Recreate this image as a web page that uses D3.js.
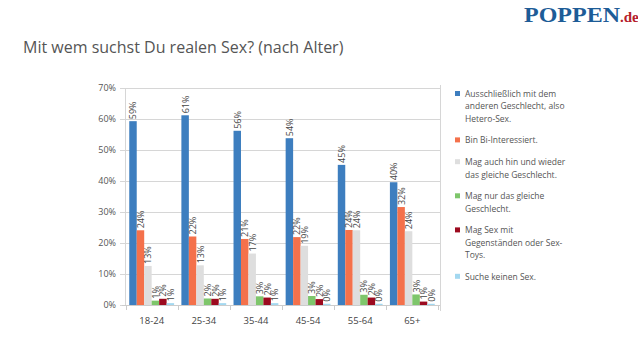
<!DOCTYPE html>
<html><head><meta charset="utf-8">
<script src="https://cdn.jsdelivr.net/npm/d3@7"></script>
<style>body{margin:0;background:#fff;}svg{display:block;font-family:"Open Sans",sans-serif;}</style>
</head><body>
<script>
const categories = ["18-24","25-34","35-44","45-54","55-64","65+"];
const seriesNames = ["Ausschließlich mit dem anderen Geschlecht, also Hetero-Sex.","Bin  Bi-Interessiert.","Mag auch hin und wieder das gleiche Geschlecht.","Mag nur das gleiche Geschlecht.","Mag Sex mit Gegenständen oder Sex-Toys.","Suche keinen Sex."];
const legendLines = [["Ausschließlich mit dem","anderen Geschlecht, also","Hetero-Sex."],["Bin  Bi-Interessiert."],["Mag auch hin und wieder","das gleiche Geschlecht."],["Mag nur das gleiche","Geschlecht."],["Mag Sex mit","Gegenständen oder Sex-","Toys."],["Suche keinen Sex."]];
const colors = ["#3d7ebf","#f4714b","#dedede","#7ec66b","#9c0a1f","#a3d8f0"];
const hetero  = [59.3, 61.2, 56.2, 53.8, 45.2, 39.6];
const bi      = [24.1, 22.1, 21.3, 21.9, 24.2, 31.6];
const sometimes=[12.6, 12.8, 16.6, 19.1, 24.1, 23.8];
const onlySame= [1.4, 2.1, 2.8, 2.9, 3.3, 3.4];
const toys    = [2.0, 2.0, 2.4, 1.9, 2.4, 1.1];
const none    = [0.6, 0.6, 0.6, 0.4, 0.4, 0.4];
const labelsText = [
  ["59%","24%","13%","1%","2%","1%"],
  ["61%","22%","13%","2%","2%","1%"],
  ["56%","21%","17%","3%","2%","1%"],
  ["54%","22%","19%","3%","2%","0%"],
  ["45%","24%","24%","3%","2%","0%"],
  ["40%","32%","24%","3%","1%","0%"]];
const yTicks = [0,10,20,30,40,50,60,70];
const series = [hetero, bi, sometimes, onlySame, toys, none];

const W=638,H=359;
const svg=d3.select("body").append("svg").attr("width",W).attr("height",H);

// title & logo
svg.append("text").attr("x",23).attr("y",53).attr("font-size",16).attr("fill","#555").text("Mit wem suchst Du realen Sex? (nach Alter)");
const logo=svg.append("text").attr("x",524).attr("y",22).attr("font-family","'Liberation Serif',serif").attr("font-weight","bold");
logo.append("tspan").attr("font-size",20).attr("fill","#1d5c97").attr("textLength",96).attr("lengthAdjust","spacingAndGlyphs").text("POPPEN");
logo.append("tspan").attr("font-size",15).attr("fill","#b5202a").text(".de");

const y=d3.scaleLinear().domain([0,70]).range([305,88]);
const x=d3.scaleBand().domain(categories).range([123,441]).paddingInner(0.14).paddingOuter(0.12);
const xs=d3.scaleBand().domain(d3.range(6)).range([0,x.bandwidth()]);

// grid
svg.append("g").selectAll("line").data(yTicks).join("line")
  .attr("x1",120).attr("x2",440).attr("y1",d=>Math.round(y(d))+0.5).attr("y2",d=>Math.round(y(d))+0.5)
  .attr("stroke","#d6d6d6");
// frame lines
svg.append("line").attr("x1",125.5).attr("x2",125.5).attr("y1",88).attr("y2",305).attr("stroke","#d6d6d6");
svg.append("line").attr("x1",440.5).attr("x2",440.5).attr("y1",85).attr("y2",311).attr("stroke","#d6d6d6");

// y axis labels
const yAxis=d3.axisLeft(y).tickValues(yTicks).tickFormat(d=>d+"%").tickSize(0).tickPadding(0);
const ya=svg.append("g").attr("transform","translate(116,0)").call(yAxis);
ya.select(".domain").remove();
ya.selectAll("text").attr("font-size",9).attr("fill","#555").attr("font-family","'Open Sans',sans-serif");

// bars
const groups=svg.append("g").selectAll("g").data(categories).join("g").attr("transform",d=>`translate(${x(d)},0)`);
groups.each(function(cat,ci){
  const g=d3.select(this);
  series.forEach((s,si)=>{
    g.append("rect").attr("x",xs(si)).attr("width",xs.bandwidth()).attr("y",y(s[ci])).attr("height",y(0)-y(s[ci])).attr("fill",colors[si]);
    g.append("text").attr("transform",`translate(${xs(si)+xs.bandwidth()/2+3.5},${y(s[ci])-2}) rotate(-90)`)
      .attr("font-size",9).attr("fill","#444").text(labelsText[ci][si]);
  });
});

// x axis
const xAxis=d3.axisBottom(x).tickSize(0).tickPadding(12);
const xa=svg.append("g").attr("transform","translate(0,305)").call(xAxis);
xa.select(".domain").attr("stroke","#ccc").attr("d","M122,0.5H440");
xa.selectAll("text").attr("font-size",9.5).attr("fill","#444").attr("font-family","'Open Sans',sans-serif");
const step=x.step();
svg.append("g").selectAll("line").data(d3.range(7)).join("line")
  .attr("x1",(d)=>Math.round(x(categories[0])-x.paddingInner()*step/2+d*step)+0.5)
  .attr("x2",(d)=>Math.round(x(categories[0])-x.paddingInner()*step/2+d*step)+0.5)
  .attr("y1",305).attr("y2",310).attr("stroke","#ccc");

// legend
const leg=svg.append("g");
let ly=97;
legendLines.forEach((lines,i)=>{
  leg.append("rect").attr("x",455).attr("y",ly-6).attr("width",5).attr("height",5).attr("fill",colors[i]);
  lines.forEach((t,j)=>{
    leg.append("text").attr("x",465).attr("y",ly+j*12.3).attr("font-size",8.5).attr("fill","#555").text(t);
  });
  ly+=lines.length*12.3+9.5;
});
</script>
</body></html>
